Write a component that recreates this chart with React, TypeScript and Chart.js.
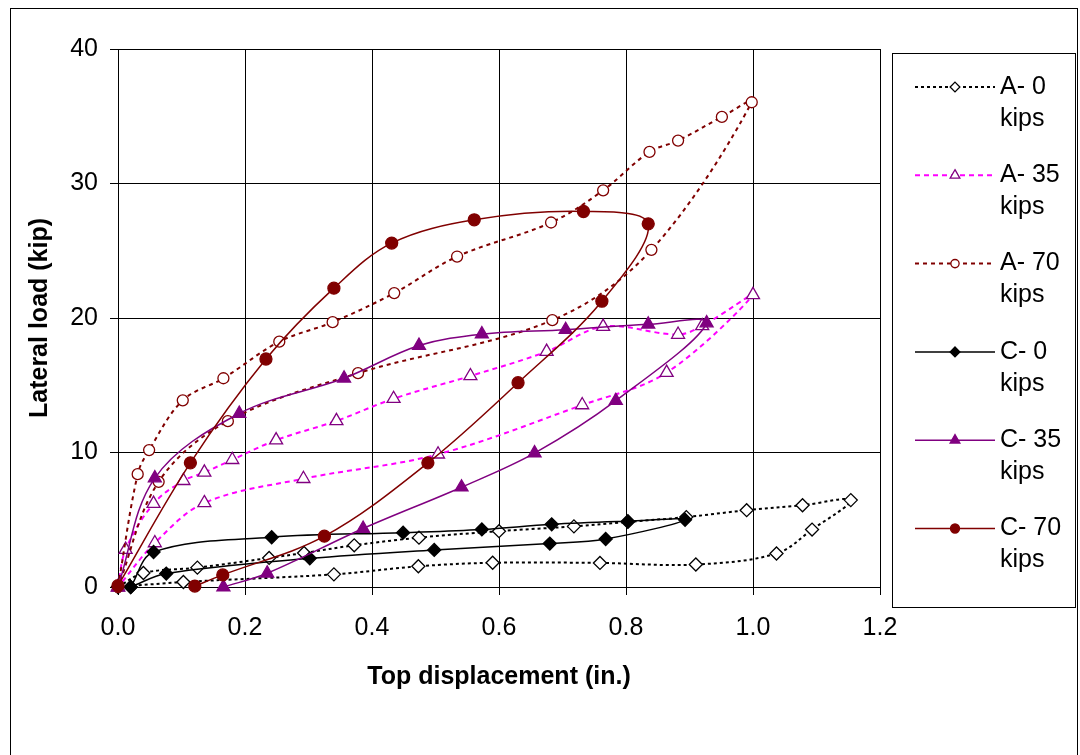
import React, { useEffect, useRef } from 'react';
import { Chart, registerables } from 'chart.js';

Chart.register(...registerables);

// ---- tick labels ----
const xTicks = [0, 0.2, 0.4, 0.6, 0.8, 1.0, 1.2];
const yTicks = [0, 10, 20, 30, 40];

// ---- series names ----
const seriesLabels = ['A- 0 kips', 'A- 35 kips', 'A- 70 kips', 'C- 0 kips', 'C- 35 kips', 'C- 70 kips'];

// ---- series values (top displacement in., lateral load kip) ----
const a0X = [0, 0.04, 0.125, 0.238, 0.293, 0.372, 0.474, 0.6, 0.718, 0.803, 0.895, 0.99, 1.078, 1.154, 1.093, 1.037, 0.91, 0.759, 0.59, 0.473, 0.34, 0.103, 0];
const a0Y = [0, 1.04, 1.44, 2.16, 2.53, 3.1, 3.67, 4.15, 4.51, 4.84, 5.2, 5.71, 6.08, 6.46, 4.27, 2.49, 1.67, 1.79, 1.8, 1.54, 0.94, 0.37, 0];

const a35X = [0, 0.012, 0.056, 0.103, 0.136, 0.18, 0.249, 0.344, 0.434, 0.555, 0.675, 0.764, 0.882, 0.92, 1.0, 0.864, 0.731, 0.504, 0.292, 0.136, 0.058, 0];
const a35Y = [0, 2.78, 6.2, 7.9, 8.52, 9.46, 10.92, 12.35, 14.0, 15.69, 17.5, 19.36, 18.77, 19.41, 21.72, 15.94, 13.53, 9.87, 8.05, 6.25, 3.27, 0];

const a70X = [0, 0.031, 0.049, 0.102, 0.166, 0.254, 0.338, 0.435, 0.534, 0.682, 0.764, 0.837, 0.882, 0.951, 0.998, 0.84, 0.684, 0.378, 0.173, 0.064, 0];
const a70Y = [0, 8.39, 10.18, 13.88, 15.52, 18.24, 19.69, 21.85, 24.57, 27.1, 29.49, 32.35, 33.19, 34.95, 36.04, 25.07, 19.84, 15.9, 12.33, 7.82, 0];

const c0X = [0.02, 0.056, 0.242, 0.449, 0.573, 0.683, 0.803, 0.893, 0.768, 0.68, 0.498, 0.302, 0.076, 0.02];
const c0Y = [0, 2.6, 3.7, 4.04, 4.28, 4.66, 4.89, 5.0, 3.57, 3.23, 2.76, 2.13, 1.0, 0];

const c35X = [0, 0.058, 0.191, 0.356, 0.474, 0.573, 0.705, 0.835, 0.927, 0.784, 0.656, 0.541, 0.386, 0.235, 0.166];
const c35Y = [0, 8.1, 12.9, 15.52, 17.95, 18.8, 19.13, 19.53, 19.62, 13.85, 9.95, 7.42, 4.35, 1.02, 0];

const c70X = [0, 0.114, 0.233, 0.34, 0.431, 0.561, 0.733, 0.835, 0.762, 0.63, 0.488, 0.325, 0.165, 0.121];
const c70Y = [0.1, 9.23, 16.95, 22.22, 25.57, 27.3, 27.92, 27.0, 21.25, 15.19, 9.23, 3.78, 0.9, 0.07];

const FONT = "'Liberation Sans', Arial, Helvetica, sans-serif";

const toPoints = (xs: number[], ys: number[]) => xs.map((x, i) => ({ x, y: ys[i] }));

type Style = {
  color: string;
  dash: number[];
  width: number;
  point: 'rectRot' | 'triangle' | 'circle';
  radius: number;
  fill: string;
  stroke: string;
};

const styles: Style[] = [
  { color: '#000000', dash: [3, 3], width: 2, point: 'rectRot', radius: 6.5, fill: '#ffffff', stroke: '#000000' },
  { color: '#FF00FF', dash: [5, 4], width: 2, point: 'triangle', radius: 7.5, fill: '#ffffff', stroke: '#800080' },
  { color: '#800000', dash: [4, 4], width: 2, point: 'circle', radius: 5.5, fill: '#ffffff', stroke: '#800000' },
  { color: '#000000', dash: [], width: 1.5, point: 'rectRot', radius: 6.5, fill: '#000000', stroke: '#000000' },
  { color: '#800080', dash: [], width: 1.5, point: 'triangle', radius: 7.5, fill: '#800080', stroke: '#800080' },
  { color: '#800000', dash: [], width: 1.5, point: 'circle', radius: 6, fill: '#800000', stroke: '#800000' },
];

const seriesData = [
  toPoints(a0X, a0Y),
  toPoints(a35X, a35Y),
  toPoints(a70X, a70Y),
  toPoints(c0X, c0Y),
  toPoints(c35X, c35Y),
  toPoints(c70X, c70Y),
];

function drawMarker(ctx: CanvasRenderingContext2D, s: Style, x: number, y: number, r: number) {
  ctx.save();
  ctx.setLineDash([]);
  ctx.beginPath();
  if (s.point === 'circle') {
    ctx.arc(x, y, r, 0, Math.PI * 2);
  } else if (s.point === 'rectRot') {
    ctx.moveTo(x, y - r);
    ctx.lineTo(x + r, y);
    ctx.lineTo(x, y + r);
    ctx.lineTo(x - r, y);
    ctx.closePath();
  } else {
    const h = r * 1.5;
    const half = r * Math.sqrt(3) / 2;
    ctx.moveTo(x, y - r);
    ctx.lineTo(x + half, y - r + h);
    ctx.lineTo(x - half, y - r + h);
    ctx.closePath();
  }
  ctx.fillStyle = s.fill;
  ctx.fill();
  ctx.strokeStyle = s.stroke;
  ctx.lineWidth = 1.3;
  ctx.stroke();
  ctx.restore();
}

const framePlugin = {
  id: 'frame',
  beforeDraw(chart: any) {
    const ctx = chart.ctx as CanvasRenderingContext2D;
    ctx.save();
    ctx.fillStyle = '#ffffff';
    ctx.fillRect(0, 0, chart.width, chart.height);
    ctx.strokeStyle = '#000000';
    ctx.lineWidth = 1;
    ctx.strokeRect(10.5, 8.5, 1067, 800);
    ctx.restore();
  },
};

const legendPlugin = {
  id: 'customLegend',
  afterDraw(chart: any) {
    const ctx = chart.ctx as CanvasRenderingContext2D;
    const boxL = 892.5, boxT = 53.5, boxR = 1075.5, boxB = 607.5;
    ctx.save();
    ctx.strokeStyle = '#000000';
    ctx.lineWidth = 1;
    ctx.strokeRect(boxL, boxT, boxR - boxL, boxB - boxT);
    const startY = 87;
    const step = 88.3;
    chart.data.datasets.forEach((ds: any, i: number) => {
      const s = styles[i];
      const y = startY + i * step;
      ctx.save();
      ctx.strokeStyle = s.color;
      ctx.lineWidth = s.width;
      ctx.setLineDash(s.dash);
      ctx.beginPath();
      ctx.moveTo(915, y);
      ctx.lineTo(995, y);
      ctx.stroke();
      ctx.restore();
      drawMarker(ctx, s, 955, y, s.radius * 0.75);
      const label: string = ds.label;
      const cut = label.lastIndexOf(' ');
      const l1 = label.slice(0, cut);
      const l2 = label.slice(cut + 1);
      ctx.fillStyle = '#000000';
      ctx.font = `25px ${FONT}`;
      ctx.textAlign = 'left';
      ctx.textBaseline = 'middle';
      ctx.fillText(l1, 1000, y);
      ctx.fillText(l2, 1000, y + 32);
    });
    ctx.restore();
  },
};

export default function App() {
  const canvasRef = useRef<HTMLCanvasElement | null>(null);

  useEffect(() => {
    if (!canvasRef.current) return;
    const datasets = seriesData.map((data, i) => {
      const s = styles[i];
      return {
        label: seriesLabels[i],
        data,
        showLine: true,
        borderColor: s.color,
        borderWidth: s.width,
        borderDash: s.dash,
        tension: 0.35,
        pointStyle: s.point,
        pointRadius: s.radius,
        pointBackgroundColor: s.fill,
        pointBorderColor: s.stroke,
        pointBorderWidth: 1.3,
        backgroundColor: s.fill,
        fill: false,
        clip: false,
        order: seriesData.length - i,
      };
    });

    const chart = new Chart(canvasRef.current, {
      type: 'scatter',
      data: { datasets },
      options: {
        animation: false,
        responsive: false,
        events: [],
        layout: { padding: { left: 18, right: 200, top: 49, bottom: 58 } },
        plugins: {
          legend: { display: false },
          tooltip: { enabled: false },
        },
        scales: {
          x: {
            type: 'linear',
            min: xTicks[0],
            max: xTicks[xTicks.length - 1],
            afterBuildTicks: (scale: any) => {
              scale.ticks = xTicks.map((v) => ({ value: v }));
            },
            afterFit: (scale: any) => {
              scale.height = 110;
            },
            grid: { color: '#000000', lineWidth: 1, drawTicks: true, tickLength: 8, tickColor: '#000000' },
            border: { display: true, color: '#000000', width: 1 },
            ticks: {
              color: '#000000',
              font: { family: FONT, size: 25 },
              padding: 18,
              maxRotation: 0,
              autoSkip: false,
              callback: (v: any) => Number(v).toFixed(1),
            },
            title: {
              display: true,
              text: 'Top displacement (in.)',
              color: '#000000',
              font: { family: FONT, size: 25, weight: 'bold' },
              padding: { top: 0, bottom: 5 },
            },
          },
          y: {
            type: 'linear',
            min: yTicks[0],
            max: yTicks[yTicks.length - 1],
            afterBuildTicks: (scale: any) => {
              scale.ticks = yTicks.map((v) => ({ value: v }));
            },
            afterFit: (scale: any) => {
              scale.width = 100;
            },
            grid: { color: '#000000', lineWidth: 1, drawTicks: true, tickLength: 8, tickColor: '#000000' },
            border: { display: true, color: '#000000', width: 1 },
            ticks: {
              color: '#000000',
              font: { family: FONT, size: 25 },
              padding: 12,
              autoSkip: false,
              callback: (v: any) => String(v),
            },
            title: {
              display: true,
              text: 'Lateral load (kip)',
              color: '#000000',
              font: { family: FONT, size: 25, weight: 'bold' },
              padding: { top: 7, bottom: 0 },
            },
          },
        },
      },
      plugins: [framePlugin, legendPlugin],
    } as any);

    return () => chart.destroy();
  }, []);

  return (
    <div style={{ position: 'absolute', left: 0, top: 0, width: 1080, height: 755, background: '#ffffff' }}>
      <canvas ref={canvasRef} width={1080} height={755} style={{ display: 'block' }} />
    </div>
  );
}
